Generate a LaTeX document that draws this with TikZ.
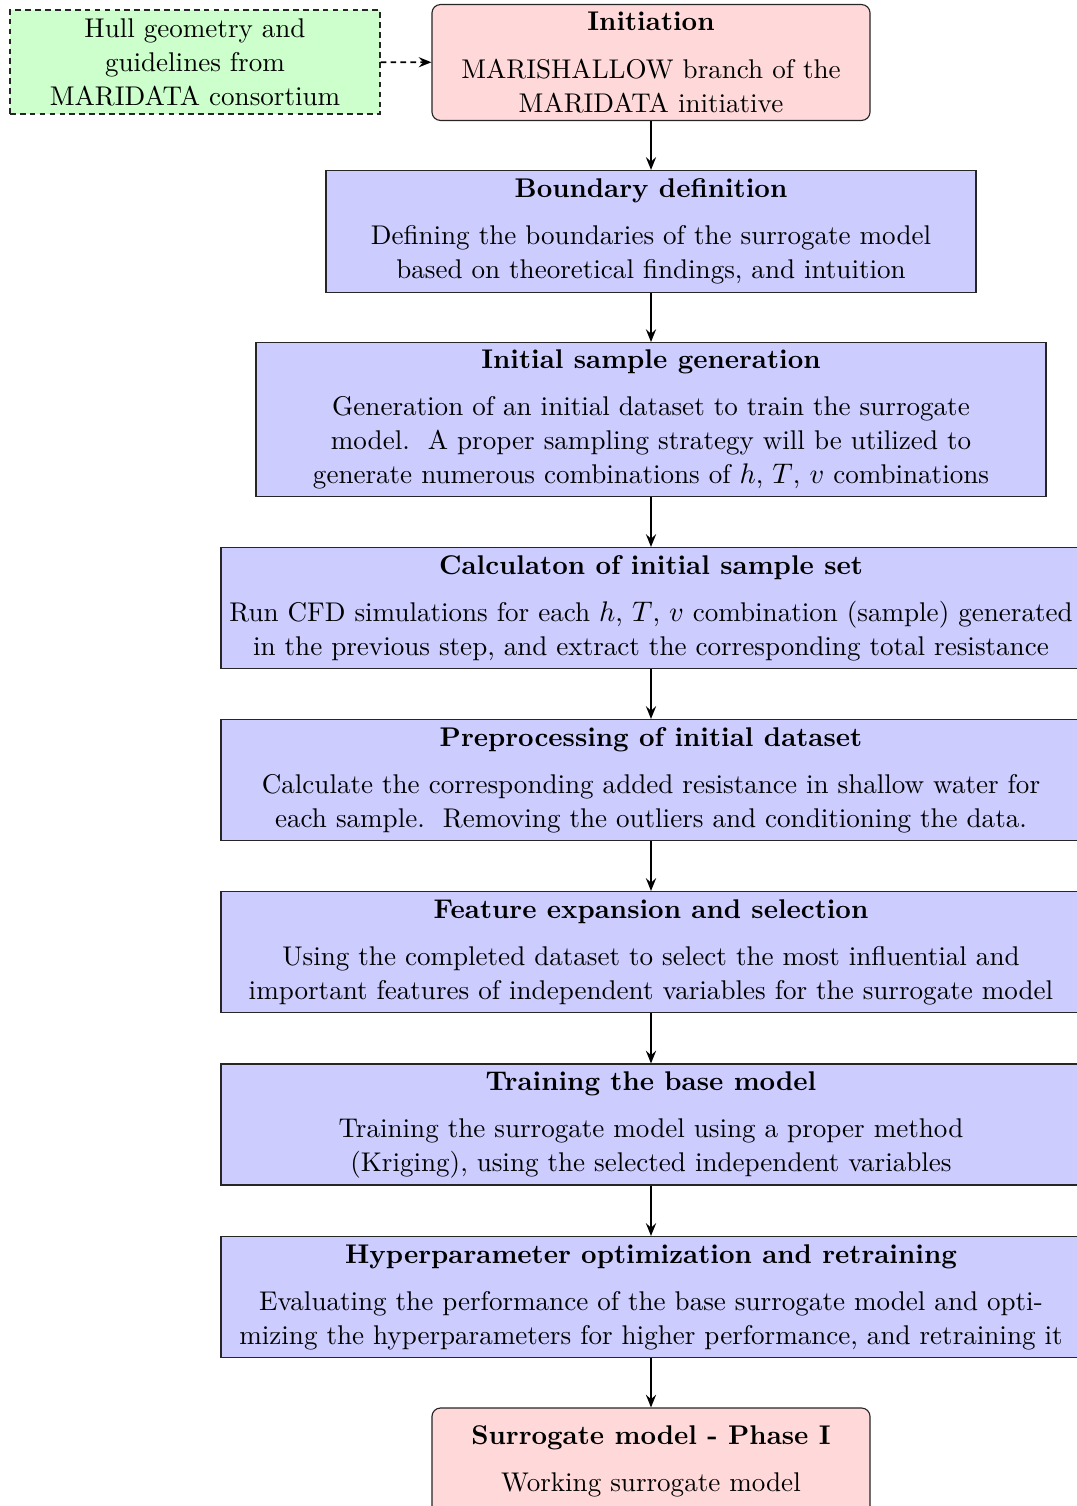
\documentclass[tikz,border=0pt]{standalone}
\usetikzlibrary{arrows.meta}
\begin{document}
\begin{tikzpicture}[x=0.3529pt, y=-0.3529pt,
  every node/.style={font=\fontsize{9.55}{12}\selectfont},
  stepbox/.style={draw=black!85, fill=blue!20, align=center, inner sep=0pt},
  endbox/.style={draw=black!85, fill=red!15, rounded corners=3pt, align=center, inner sep=0pt,
                 minimum width=154.6pt},
  inputbox/.style={draw=black!85, dash pattern=on 2pt off 1.5pt, fill=green!20, align=center,
                 inner sep=0pt, minimum width=130.6pt, minimum height=36.7pt},
  wide/.style={stepbox, minimum width=303.5pt, minimum height=42.7pt},
  flow/.style={-{Stealth[length=4.5pt, width=3.6pt, inset=1.6pt]}, semithick},
]
\useasboundingbox (0,0) rectangle (1076,1506);

\node[inputbox] (input) at (195,62)
  {Hull geometry and\\guidelines from\\MARIDATA consortium};

\node[endbox, minimum height=40.9pt] (init) at (651,62.5)
  {\textbf{Initiation}\\[4.6pt] MARISHALLOW branch of the\\MARIDATA initiative};

\node[stepbox, minimum width=229.4pt, minimum height=43.1pt] (bound) at (651,231.5)
  {\textbf{Boundary definition}\\[4.6pt]
   Defining the boundaries of the surrogate model\\
   based on theoretical findings, and intuition};

\node[stepbox, minimum width=278.8pt, minimum height=54.3pt] (sample) at (651,419.5)
  {\textbf{Initial sample generation}\\[4.6pt]
   Generation of an initial dataset to train the surrogate\\
   model.\ \ A proper sampling strategy will be utilized to\\
   generate numerous combinations of $h$, $T$, $v$ combinations};

\node[wide] (calc) at (651,608)
  {\textbf{Calculaton of initial sample set}\\[4.6pt]
   Run CFD simulations for each $h$, $T$, $v$ combination (sample) generated\\
   in the previous step, and extract the corresponding total resistance};

\node[wide] (prep) at (651,780)
  {\textbf{Preprocessing of initial dataset}\\[4.6pt]
   Calculate the corresponding added resistance in shallow water for\\
   each sample.\ \ Removing the outliers and conditioning the data.};

\node[wide] (feat) at (651,952)
  {\textbf{Feature expansion and selection}\\[4.6pt]
   Using the completed dataset to select the most influential and\\
   important features of independent variables for the surrogate model};

\node[wide] (train) at (651,1124.5)
  {\textbf{Training the base model}\\[4.6pt]
   Training the surrogate model using a proper method\\
   (Kriging), using the selected independent variables};

\node[wide] (hyper) at (651,1297)
  {\textbf{Hyperparameter optimization and retraining}\\[4.6pt]
   Evaluating the performance of the base surrogate model and opti-\\
   mizing the hyperparameters for higher performance, and retraining it};

\node[endbox, minimum height=37.4pt] (final) at (651,1461)
  {\textbf{Surrogate model - Phase I}\\[4.6pt] Working surrogate model};

\draw[flow, dash pattern=on 2pt off 1.5pt] (input) -- (init);
\draw[flow] (init) -- (bound);
\draw[flow] (bound) -- (sample);
\draw[flow] (sample) -- (calc);
\draw[flow] (calc) -- (prep);
\draw[flow] (prep) -- (feat);
\draw[flow] (feat) -- (train);
\draw[flow] (train) -- (hyper);
\draw[flow] (hyper) -- (final);
\end{tikzpicture}
\end{document}
